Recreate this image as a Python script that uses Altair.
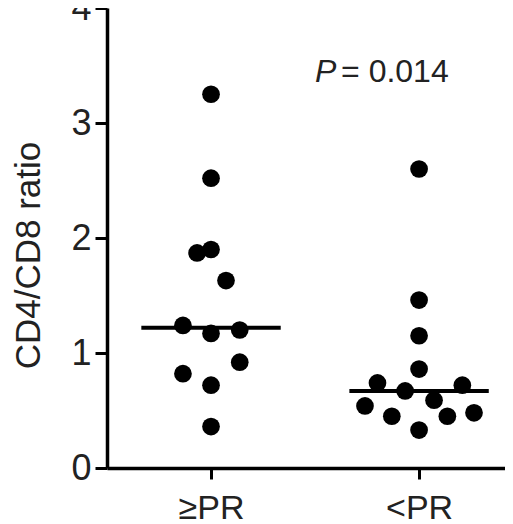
import altair as alt
import pandas as pd
import numpy as np

# Data
groups = ["≥PR", "<PR"]
ge_pr_values = [3.25, 2.52, 1.87, 1.90, 1.63, 1.24, 1.17, 1.20, 0.92, 0.82, 0.72, 0.36]
ge_pr_offsets = [0.0, 0.0, -0.067, 0.0, 0.072, -0.135, 0.0, 0.138, 0.138, -0.135, 0.0, 0.0]
lt_pr_values = [2.60, 1.46, 1.15, 0.86, 0.74, 0.67, 0.72, 0.54, 0.59, 0.45, 0.45, 0.48, 0.33]
lt_pr_offsets = [0.0, 0.0, 0.0, 0.0, -0.20, -0.067, 0.208, -0.26, 0.072, -0.131, 0.136, 0.264, 0.0]
y_ticks = [0, 1, 2, 3, 4]
p_label = "= 0.014"

rows = []
for i, (vals, offs) in enumerate([(ge_pr_values, ge_pr_offsets), (lt_pr_values, lt_pr_offsets)]):
    for v, o in zip(vals, offs):
        rows.append({"group": groups[i], "xpos": i + 1 + o, "ratio": v})
points = pd.DataFrame(rows)

half = 0.335
medians = pd.DataFrame({
    "group": groups,
    "x1": [1 - half, 2 - half],
    "x2": [1 + half, 2 + half],
    "med": [float(np.median(ge_pr_values)), float(np.median(lt_pr_values))],
})

font = "Liberation Sans"
xscale = alt.Scale(domain=[0.5, 2.413], nice=False, zero=False)
yscale = alt.Scale(domain=[0, 4], nice=False)

xaxis = alt.Axis(values=[1, 2], labelExpr="datum.value == 1 ? '≥PR' : '<PR'",
                 title=None, grid=False, tickSize=11, labelPadding=12,
                 labelFontSize=34, labelFlush=False)
yaxis = alt.Axis(values=y_ticks, format="d", title="CD4/CD8 ratio", grid=False, tickSize=12,
                 labelPadding=4, labelFontSize=36, titleFontSize=35,
                 titleFontWeight="normal", titleX=-79, titleY=247,
                 titleAngle=270, titleAlign="center", titleBaseline="middle")

dots = alt.Chart(points).mark_circle(size=314, opacity=1, color="black").encode(
    x=alt.X("xpos:Q", scale=xscale, axis=xaxis),
    y=alt.Y("ratio:Q", scale=yscale, axis=yaxis),
)

rules = alt.Chart(medians).mark_rule(color="black", strokeWidth=4).encode(
    x=alt.X("x1:Q", scale=xscale),
    x2="x2:Q",
    y=alt.Y("med:Q", scale=yscale),
)

ann = pd.DataFrame({"x": [1.5, 1.625], "y": [3.44, 3.44], "t": ["P", p_label]})
ptext = alt.Chart(ann[ann.t == "P"]).mark_text(
    font=font, fontSize=32, fontStyle="italic", align="left", baseline="middle", color="#222"
).encode(x=alt.X("x:Q", scale=xscale), y=alt.Y("y:Q", scale=yscale), text="t:N")
vtext = alt.Chart(ann[ann.t != "P"]).mark_text(
    font=font, fontSize=32, align="left", baseline="middle", color="#222"
).encode(x=alt.X("x:Q", scale=xscale), y=alt.Y("y:Q", scale=yscale), text="t:N")

chart = alt.layer(dots, rules, ptext, vtext).properties(
    width=398, height=460,
    autosize=alt.AutoSizeParams(type="none"),
    padding={"left": 99, "top": 0, "right": 0, "bottom": 56},
    background="white",
).configure_view(stroke=None).configure_axis(
    domainColor="black", domainWidth=3.5, tickColor="black", tickWidth=3,
    labelFont=font, titleFont=font, labelColor="#222", titleColor="#222",
)

chart.save("out.html", embed_options={"renderer": "svg", "actions": False})
